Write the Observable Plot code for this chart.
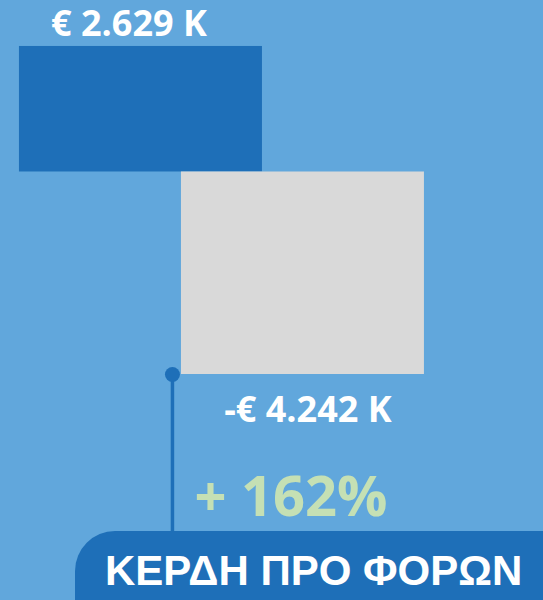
<!DOCTYPE html>
<html><head><meta charset="utf-8">
<script src="https://cdn.jsdelivr.net/npm/d3@7"></script>
<script src="https://cdn.jsdelivr.net/npm/@observablehq/plot@0.6"></script>
<style>html,body{margin:0;padding:0;background:#61a7dc;overflow:hidden}</style>
</head><body><div id="chart"></div>
<script>
const steps = [0, 1];
const values = [2.629, -4.242];
const valueLabels = ["€ 2.629 K", "-€ 4.242 K"];
const barColors = ["#1e6fb8", "#d9d9d9"];
const changeLabel = ["+ 162%"];
const bannerLabel = ["ΚΕΡΔΗ ΠΡΟ ΦΟΡΩΝ"];

const bars = steps.map((s, i) => ({step: s, value: values[i], label: valueLabels[i], color: barColors[i]}));
const half = 0.75;
const neg = bars[1];
const bannerTop = -7.53;

const chart = Plot.plot({
  width: 543,
  height: 600,
  margin: 0,
  x: {domain: [-0.867, 2.485], axis: null},
  y: {domain: [-8.976, 3.592], axis: null},
  color: {type: "identity"},
  style: {background: "transparent", overflow: "hidden"},
  marks: [
    Plot.rect(bars, {x1: d => d.step - half, x2: d => d.step + half, y1: 0, y2: "value", fill: "color"}),
    Plot.text(bars.filter(d => d.value > 0), {x: "step", y: "value", text: "label", fill: "white",
      fontFamily: "Open Sans", fontWeight: "bold", fontSize: 36, lineAnchor: "middle", dy: -22, dx: -12}),
    Plot.text(bars.filter(d => d.value < 0), {x: "step", y: "value", text: "label", fill: "white",
      fontFamily: "Open Sans", fontWeight: "bold", fontSize: 36, lineAnchor: "middle", dy: 35.5, dx: 5}),
    Plot.ruleX([neg], {x: d => d.step - half, y1: "value", y2: bannerTop, dx: -9, stroke: "#1e6fb8", strokeWidth: 3.5}),
    Plot.dot([neg], {x: d => d.step - half, y: "value", dx: -9, r: 7.5, fill: "#1e6fb8"}),
    Plot.text(changeLabel, {x: 0.33, y: -6.826, text: d => d, fill: "#c5e0b4", fontFamily: "Open Sans",
      fontWeight: "bold", fontSize: 56, textAnchor: "start", lineAnchor: "middle"}),
    Plot.rect(bannerLabel, {x1: -0.404, x2: 3.2, y1: bannerTop, y2: -10.5, rx: 40, fill: "#1e6fb8"}),
    Plot.text(bannerLabel, {x: -0.222, y: -8.36, text: d => d, fill: "white", fontFamily: "Liberation Sans",
      fontWeight: "bold", fontSize: 42, textAnchor: "start", lineAnchor: "middle"})
  ]
});
document.getElementById("chart").append(chart);
</script></body></html>
